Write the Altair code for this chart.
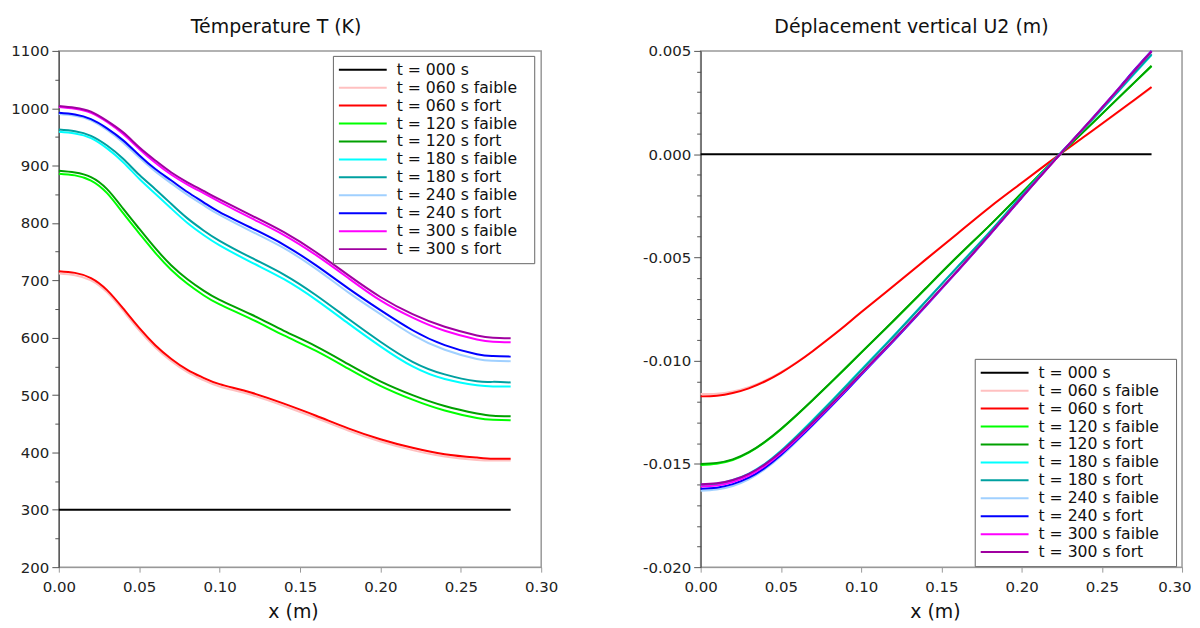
import altair as alt
import pandas as pd

# ---------------- data ----------------
x_vals = [0.0, 0.01, 0.02, 0.03, 0.04, 0.05, 0.06, 0.07, 0.08, 0.09, 0.10,
          0.12, 0.14, 0.16, 0.18, 0.20, 0.22, 0.24, 0.26, 0.27, 0.281]

series = ["t = 000 s", "t = 060 s faible", "t = 060 s fort", "t = 120 s faible", "t = 120 s fort",
          "t = 180 s faible", "t = 180 s fort", "t = 240 s faible", "t = 240 s fort",
          "t = 300 s faible", "t = 300 s fort"]
colors = ["#000000", "#ffc0c0", "#ff0000", "#00ff00", "#00a000", "#00ffff", "#00a0a0",
          "#a0d0ff", "#0000ff", "#ff00ff", "#a000a0"]

# Temperature T (K)
T_000 = [300, 300, 300, 300, 300, 300, 300, 300, 300, 300, 300, 300, 300, 300, 300, 300, 300, 300, 300, 300, 300]
T_060_faible = [712, 709, 700, 679, 647, 613, 583, 559, 540, 526, 515, 500, 481, 460, 438, 419, 404, 393, 387, 386, 386]
T_060_fort = [716, 713, 704, 683, 651, 617, 587, 563, 544, 530, 519, 504, 485, 464, 442, 423, 408, 397, 391, 389, 389]
T_120_faible = [886, 883, 874, 852, 817, 782, 748, 718, 694, 674, 658, 632, 604, 577, 546, 516, 492, 473, 460, 457, 456]
T_120_fort = [891, 888, 880, 859, 825, 790, 756, 726, 702, 682, 666, 640, 612, 585, 554, 524, 500, 481, 468, 464, 463]
T_180_faible = [959, 956, 948, 930, 906, 877, 851, 825, 800, 779, 761, 731, 702, 666, 625, 585, 550, 528, 517, 515, 515]
T_180_fort = [963, 960, 952, 935, 912, 884, 859, 833, 808, 787, 769, 739, 710, 674, 633, 593, 558, 536, 524, 523, 522]
T_240_faible = [990, 987, 979, 962, 940, 914, 890, 869, 849, 831, 814, 785, 756, 720, 679, 641, 605, 579, 563, 560, 559]
T_240_fort = [992, 989, 981, 965, 944, 918, 894, 874, 854, 836, 819, 791, 762, 726, 686, 648, 613, 587, 571, 568, 567]
T_300_faible = [1002, 999, 992, 976, 955, 929, 905, 884, 867, 852, 837, 808, 779, 744, 704, 665, 635, 612, 597, 593, 592]
T_300_fort = [1004, 1001, 994, 978, 958, 932, 909, 888, 871, 856, 841, 813, 784, 749, 709, 671, 641, 619, 604, 600, 599]

# Vertical displacement U2 (m)
U_000 = [0.0, 0.0, 0.0, 0.0, 0.0, 0.0, 0.0, 0.0, 0.0, 0.0, 0.0, 0.0, 0.0, 0.0, 0.0, 0.0, 0.0, 0.0, 0.0, 0.0, 0.0]
U_060_faible = [-0.01162, -0.01160, -0.01149, -0.01128, -0.01097, -0.01056, -0.01007, -0.00952, -0.00892, -0.00830, -0.00765,
                -0.00639, -0.00511, -0.00384, -0.00257, -0.00139, -0.00023, 0.00089, 0.00202, 0.00259, 0.00322]
U_060_fort = [-0.01173, -0.01170, -0.01157, -0.01134, -0.01101, -0.01059, -0.01009, -0.00953, -0.00893, -0.00831, -0.00766,
              -0.00640, -0.00512, -0.00385, -0.00258, -0.00140, -0.00023, 0.00090, 0.00204, 0.00261, 0.00325]
U_120_faible = [-0.01505, -0.01499, -0.01481, -0.01446, -0.01395, -0.01333, -0.01263, -0.01190, -0.01115, -0.01039, -0.00962,
                -0.00809, -0.00653, -0.00497, -0.00346, -0.00189, -0.00031, 0.00119, 0.00269, 0.00344, 0.00426]
U_120_fort = [-0.01500, -0.01495, -0.01478, -0.01443, -0.01393, -0.01331, -0.01262, -0.01189, -0.01114, -0.01038, -0.00961,
              -0.00808, -0.00652, -0.00496, -0.00346, -0.00189, -0.00031, 0.00119, 0.00270, 0.00345, 0.00428]
U_180_faible = [-0.01600, -0.01596, -0.01578, -0.01547, -0.01499, -0.01436, -0.01363, -0.01286, -0.01207, -0.01126, -0.01044,
                -0.00882, -0.00714, -0.00546, -0.00378, -0.00201, -0.00030, 0.00133, 0.00301, 0.00387, 0.00480]
U_180_fort = [-0.01605, -0.01600, -0.01582, -0.01550, -0.01502, -0.01439, -0.01366, -0.01289, -0.01210, -0.01129, -0.01047,
              -0.00884, -0.00716, -0.00547, -0.00379, -0.00202, -0.00030, 0.00134, 0.00303, 0.00390, 0.00484]
U_240_faible = [-0.01630, -0.01624, -0.01607, -0.01575, -0.01526, -0.01463, -0.01390, -0.01313, -0.01234, -0.01153, -0.01071,
                -0.00907, -0.00739, -0.00567, -0.00392, -0.00212, -0.00035, 0.00137, 0.00312, 0.00402, 0.00496]
U_240_fort = [-0.01620, -0.01615, -0.01598, -0.01567, -0.01519, -0.01457, -0.01385, -0.01309, -0.01231, -0.01151, -0.01069,
              -0.00906, -0.00738, -0.00567, -0.00392, -0.00212, -0.00035, 0.00138, 0.00314, 0.00405, 0.00500]
U_300_faible = [-0.01610, -0.01605, -0.01588, -0.01557, -0.01510, -0.01449, -0.01378, -0.01303, -0.01226, -0.01146, -0.01065,
                -0.00903, -0.00736, -0.00566, -0.00391, -0.00211, -0.00035, 0.00137, 0.00312, 0.00402, 0.00498]
U_300_fort = [-0.01599, -0.01594, -0.01578, -0.01548, -0.01502, -0.01442, -0.01372, -0.01298, -0.01222, -0.01143, -0.01062,
              -0.00901, -0.00735, -0.00565, -0.00390, -0.00211, -0.00035, 0.00137, 0.00311, 0.00401, 0.00497]

x_ticks = [0.0, 0.05, 0.10, 0.15, 0.20, 0.25, 0.30]

T_lists = [T_000, T_060_faible, T_060_fort, T_120_faible, T_120_fort, T_180_faible,
           T_180_fort, T_240_faible, T_240_fort, T_300_faible, T_300_fort]
U_lists = [U_000, U_060_faible, U_060_fort, U_120_faible, U_120_fort, U_180_faible,
           U_180_fort, U_240_faible, U_240_fort, U_300_faible, U_300_fort]


def long_table(lists):
    rows = []
    for k, (name, vals) in enumerate(zip(series, lists)):
        for i, (xv, yv) in enumerate(zip(x_vals, vals)):
            rows.append({"x": xv, "v": yv, "serie": name, "k": k, "i": i})
    return pd.DataFrame(rows)


FONT = "DejaVu Sans"
H = 518


def legend(lx, ly):
    return alt.Legend(
        title=None, orient="none", legendX=lx, legendY=ly,
        symbolType="stroke", symbolSize=2304, symbolStrokeWidth=2,
        labelFont=FONT, labelFontSize=15.7, labelColor="#111",
        labelExpr="datum.label + '\u2800'",
        clipHeight=17.8, rowPadding=0, padding=5, labelOffset=9,
        fillColor="white", strokeColor="#666",
    )


def x_enc(last_right=False):
    extra = {}
    if last_right:
        extra = dict(
            labelAlign={"condition": {"test": "datum.value >= 0.299", "value": "right"}, "value": "center"},
            labelOffset={"condition": {"test": "datum.value >= 0.299", "value": 9}, "value": 0},
        )
    return alt.X(
        "x:Q", scale=alt.Scale(domain=[0, 0.3], nice=False, zero=False),
        axis=alt.Axis(values=x_ticks, format=".2f", title="x (m)", tickSize=5,
                      labelPadding=7, titlePadding=9, titleX=235, domainColor="#999", tickColor="#999",
                      labelFlush=False, **extra),
    )


def title(text, dx):
    return alt.TitleParams(text, fontSize=19, font=FONT, fontWeight="normal",
                           color="#111", offset=7, anchor="middle", dx=dx)


left_df = long_table(T_lists)
right_df = long_table(U_lists)

left_y_vals = [200 + 50 * i for i in range(19)]
right_y_vals = [round(-0.020 + 0.001 * i, 3) for i in range(26)]

left = alt.Chart(left_df).mark_line(strokeWidth=2, interpolate="natural").encode(
    x=x_enc(),
    y=alt.Y("v:Q", scale=alt.Scale(domain=[200, 1100], nice=False, zero=False),
            axis=alt.Axis(values=left_y_vals, title=None,
                          labelExpr="datum.value % 100 === 0 ? datum.value : ''",
                          tickSize={"condition": {"test": "datum.value % 100 === 0", "value": 7}, "value": 4},
                          labelPadding=3, domainColor="#444", tickColor="#555")),
    color=alt.Color("serie:N", scale=alt.Scale(domain=series, range=colors), legend=legend(275, 5)),
    detail="k:N",
    order="i:Q",
).properties(width=484, height=H, title=title("Témperature T (K)", -24))

right = alt.Chart(right_df).mark_line(strokeWidth=2, interpolate="natural").encode(
    x=x_enc(last_right=True),
    y=alt.Y("v:Q", scale=alt.Scale(domain=[-0.020, 0.005], nice=False, zero=False),
            axis=alt.Axis(values=right_y_vals, title=None,
                          labelExpr="abs(round(datum.value*1000)) % 5 === 0 ? replace(format(datum.value, '.3f'), '−', '-') : ''",
                          tickSize={"condition": {"test": "abs(round(datum.value*1000)) % 5 === 0", "value": 7}, "value": 4},
                          labelPadding=3, domainColor="#444", tickColor="#555")),
    color=alt.Color("serie:N", scale=alt.Scale(domain=series, range=colors), legend=legend(275, 309)),
    detail="k:N",
    order="i:Q",
).properties(width=483, height=H, title=title("Déplacement vertical U2 (m)", -30))

chart = alt.hconcat(left, right, spacing=82).resolve_scale(color="independent").resolve_legend(
    color="independent"
).properties(
    padding={"left": 2, "top": 8, "right": 0, "bottom": 0}
).configure_view(stroke="#999", strokeWidth=1.5).configure_axis(
    labelFont=FONT, labelFontSize=15, labelColor="#222", titleFont=FONT, titleFontSize=19,
    titleFontWeight="normal", titleColor="#111", grid=False,
)

chart.save("out.html", embed_options={"renderer": "svg", "actions": False})
